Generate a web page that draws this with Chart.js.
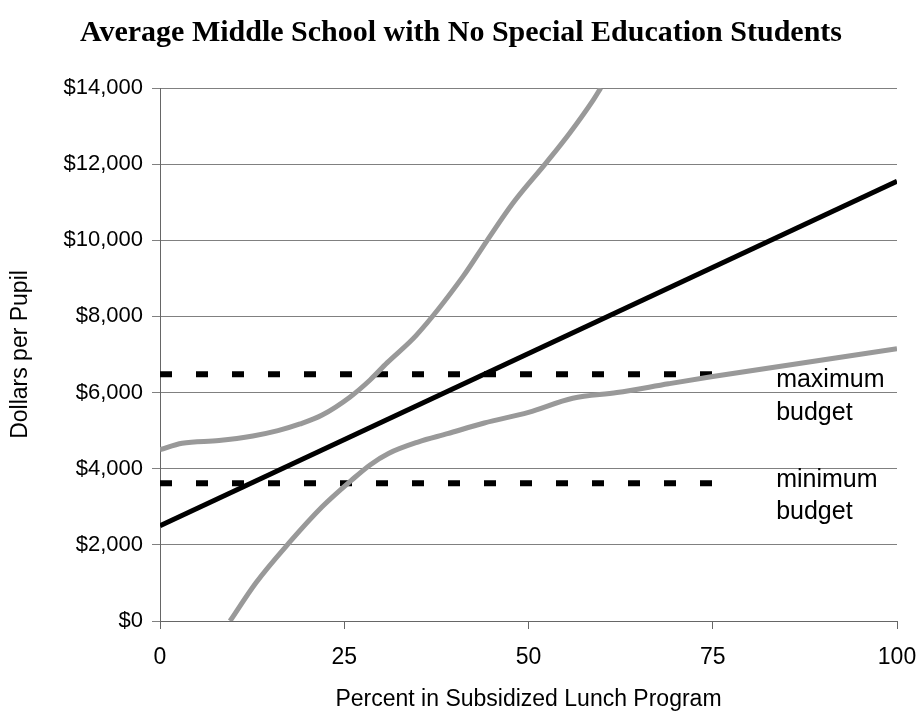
<!DOCTYPE html>
<html>
<head>
<meta charset="utf-8">
<script src="https://cdn.jsdelivr.net/npm/chart.js@4/dist/chart.umd.min.js"></script>
<style>
  html, body { margin: 0; padding: 0; background: #fff; }
  #wrap { width: 922px; height: 717px; }
</style>
</head>
<body>
<div id="wrap"><canvas id="budgetChart" width="922" height="717"></canvas></div>
<script>
// percent in subsidized lunch program vs dollars per pupil
const costX = [0, 100];
const costY = [2500, 11550];

const upperX = [0, 3, 8, 12.6, 16, 19, 22, 25.8, 28.5, 30.8, 34.8, 41.1, 44.4, 47.9, 52.5, 55.6, 58.8, 59.8];
const upperY = [4500, 4670, 4740, 4860, 5000, 5175, 5410, 5885, 6330, 6780, 7510, 9045, 10000, 10980, 12060, 12820, 13690, 14000];

const lowerX = [9.5, 13, 17.5, 22, 26, 28.5, 31, 35, 39, 44, 50, 56, 62, 69, 75, 100];
const lowerY = [0, 1000, 2050, 3000, 3700, 4100, 4400, 4700, 4920, 5200, 5480, 5850, 6000, 6230, 6420, 7150];

const budgetX = [0, 75];
const maxBudget = 6480;
const minBudget = 3620;

const xTicks = [0, 25, 50, 75, 100];
const yMax = 14000;
const yStep = 2000;

const noteX = 83.6;
const noteText = ["maximum", "budget", "minimum", "budget"];
const noteY = [6150, 5280, 3520, 2680];

function toPoints(xs, ys) {
    return xs.map((x, i) => ({ x: x, y: ys[i] }));
}

const notesPlugin = {
    id: "notes",
    afterDatasetsDraw(chart) {
        const ctx = chart.ctx;
        const xs = chart.scales.x;
        const ys = chart.scales.y;
        ctx.save();
        ctx.font = "25px 'Liberation Sans', Arial, sans-serif";
        ctx.fillStyle = "#000";
        ctx.textAlign = "left";
        ctx.textBaseline = "alphabetic";
        noteText.forEach((t, i) => {
            ctx.fillText(t, xs.getPixelForValue(noteX), ys.getPixelForValue(noteY[i]));
        });
        ctx.restore();
    }
};

const ctx = document.getElementById("budgetChart").getContext("2d");
new Chart(ctx, {
    type: "line",
    data: {
        datasets: [
            {
                label: "Upper",
                data: toPoints(upperX, upperY),
                borderColor: "#999999",
                borderWidth: 5,
                cubicInterpolationMode: "monotone",
                pointRadius: 0,
                fill: false,
            },
            {
                label: "Lower",
                data: toPoints(lowerX, lowerY),
                borderColor: "#999999",
                borderWidth: 5,
                cubicInterpolationMode: "monotone",
                pointRadius: 0,
                fill: false,
            },
            {
                label: "Maximum budget",
                data: toPoints(budgetX, [maxBudget, maxBudget]),
                borderColor: "#000",
                borderWidth: 6,
                borderDash: [12, 24],
                borderCapStyle: "butt",
                pointRadius: 0,
                fill: false,
            },
            {
                label: "Minimum budget",
                data: toPoints(budgetX, [minBudget, minBudget]),
                borderColor: "#000",
                borderWidth: 6,
                borderDash: [12, 24],
                borderCapStyle: "butt",
                pointRadius: 0,
                fill: false,
            },
            {
                label: "Cost",
                data: toPoints(costX, costY),
                borderColor: "#000",
                borderWidth: 5,
                pointRadius: 0,
                fill: false,
            },
        ],
    },
    options: {
        responsive: false,
        animation: false,
        layout: { padding: 0 },
        plugins: {
            legend: { display: false },
            tooltip: { enabled: false },
            title: {
                display: true,
                text: "Average Middle School with No Special Education Students",
                color: "#000",
                font: { family: "'Liberation Serif', 'Times New Roman', serif", size: 30, weight: "bold" },
                padding: { top: 15, bottom: 37 },
            },
        },
        scales: {
            x: {
                type: "linear",
                min: 0,
                max: 100,
                afterBuildTicks(scale) {
                    scale.ticks = xTicks.map((v) => ({ value: v }));
                },
                afterFit(scale) {
                    scale.height = 96;
                    scale.paddingLeft = 0;
                    scale.paddingRight = 25;
                },
                grid: { drawOnChartArea: false, drawTicks: true, tickLength: 8, color: "#666" },
                border: { display: true, color: "#666" },
                ticks: {
                    color: "#000",
                    padding: 15,
                    maxRotation: 0,
                    font: { family: "'Liberation Sans', Arial, sans-serif", size: 23 },
                },
                title: {
                    display: true,
                    text: "Percent in Subsidized Lunch Program",
                    color: "#000",
                    font: { family: "'Liberation Sans', Arial, sans-serif", size: 23 },
                    padding: { top: 0, bottom: 4 },
                },
            },
            y: {
                min: 0,
                max: yMax,
                afterFit(scale) {
                    scale.width = 160;
                    scale.paddingTop = 0;
                    scale.paddingBottom = 0;
                },
                grid: { color: "#808080", lineWidth: 1, drawTicks: true, tickLength: 8 },
                border: { display: true, color: "#666" },
                ticks: {
                    stepSize: yStep,
                    color: "#000",
                    padding: 9,
                    font: { family: "'Liberation Sans', Arial, sans-serif", size: 22 },
                    callback: (v) => "$" + v.toLocaleString("en-US"),
                },
                title: {
                    display: true,
                    text: "Dollars per Pupil",
                    color: "#000",
                    font: { family: "'Liberation Sans', Arial, sans-serif", size: 23 },
                    padding: { top: 7, bottom: 0 },
                },
            },
        },
    },
    plugins: [notesPlugin],
});
</script>
</body>
</html>
